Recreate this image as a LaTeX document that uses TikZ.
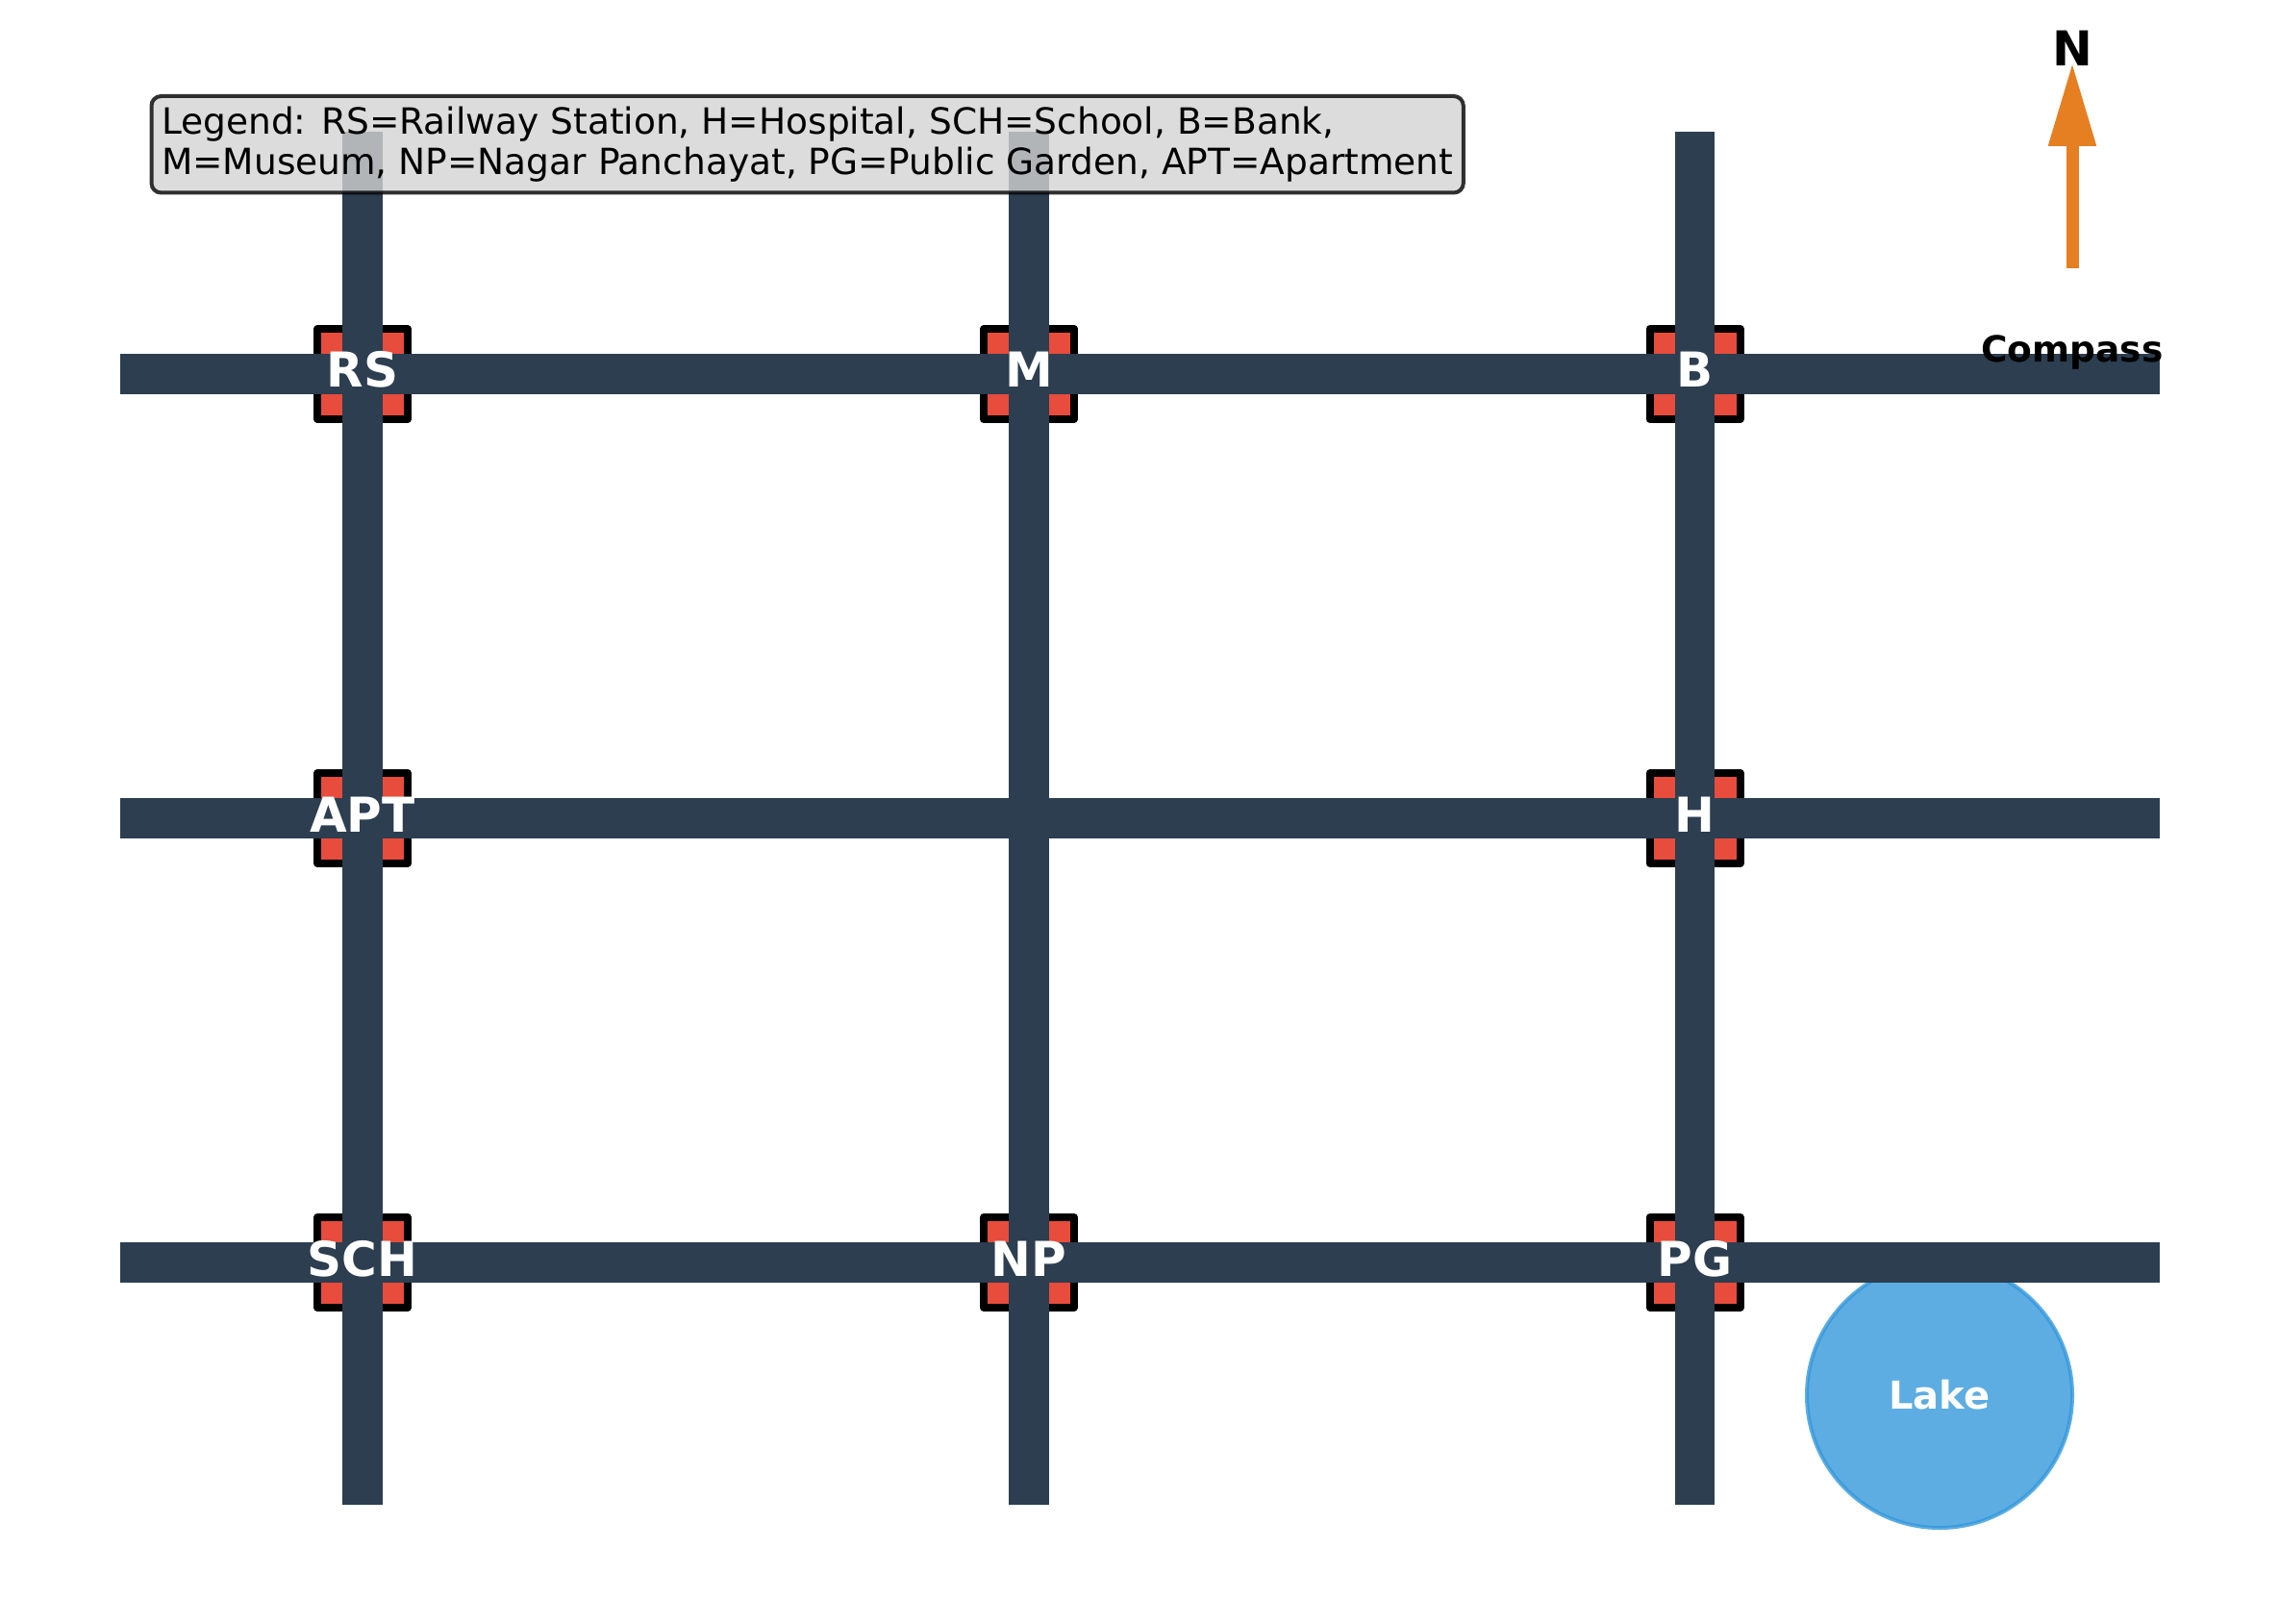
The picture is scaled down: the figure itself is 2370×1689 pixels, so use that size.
\documentclass[tikz,border=0pt]{standalone}
\usepackage{fontspec}
\setmainfont{DejaVu Sans}
\usetikzlibrary{arrows.meta}
\definecolor{roadcol}{HTML}{2C3E50}
\definecolor{markcol}{HTML}{E74C3C}
\definecolor{lakecol}{HTML}{3498DB}
\definecolor{compasscol}{HTML}{E67E22}
\definecolor{legendcol}{HTML}{D3D3D3}
\tikzset{
	road/.style={roadcol,line width=20.83pt},
	marksq/.style={draw=black,fill=markcol,line width=4pt,line join=round,minimum size=47pt,inner sep=0pt},
	marktxt/.style={white,font=\fontsize{25}{30}\selectfont\bfseries,anchor=base,inner sep=0pt},
}
\begin{document}
\begin{tikzpicture}[x=0.5pt,y=-0.5pt]
		\useasboundingbox(0,0)rectangle(2370,1689);
		\node[circle,draw=lakecol,fill=lakecol,draw opacity=.8,fill opacity=.8,text opacity=1,line width=2pt,minimum size=138pt,inner sep=0pt,text=white,text depth=1pt,font=\fontsize{20}{24}\selectfont\bfseries](lake)at(2017,1451){Lake};
		\node[marksq](rs)at(377,389){};
		\node[marksq](m)at(1070,389){};
		\node[marksq](b)at(1762.5,389){};
		\node[marksq](apt)at(377,851){};
		\node[marksq](h)at(1762.5,851){};
		\node[marksq](sch)at(377,1313){};
		\node[marksq](np)at(1070,1313){};
		\node[marksq](pg)at(1762.5,1313){};
		\draw[road](125,389)--(2246,389);
		\draw[road](125,851)--(2246,851);
		\draw[road](125,1313)--(2246,1313);
		\draw[road](377,137)--(377,1565);
		\draw[road](1070,137)--(1070,1565);
		\draw[road](1762.5,137)--(1762.5,1565);
		\node[marktxt](rstxt)at(377,403){RS};
		\node[marktxt](mtxt)at(1070,403){M};
		\node[marktxt](btxt)at(1762.5,403){B};
		\node[marktxt](apttxt)at(377,865){APT};
		\node[marktxt](htxt)at(1762.5,865){H};
		\node[marktxt](schtxt)at(377,1327){SCH};
		\node[marktxt](nptxt)at(1070,1327){NP};
		\node[marktxt](pgtxt)at(1762.5,1327){PG};
		\coordinate(tail)at(2155,279);
		\coordinate(tip)at(2155,65);
		\draw[compasscol,line width=6.5pt,-{Triangle[length=43.5pt,width=23.3pt]}](tail)--(tip);
		\node[anchor=base,inner sep=0pt,font=\fontsize{25}{30}\selectfont\bfseries](north)at(2155,68.5){N};
		\node[anchor=base,inner sep=0pt,font=\fontsize{18.75}{22.5}\selectfont\bfseries](compass)at(2155,377){Compass};
		\node[anchor=north west,draw=black,fill=legendcol,draw opacity=.8,fill opacity=.8,text opacity=1,line width=2pt,rounded corners=5pt,inner xsep=5.3pt,inner ysep=5.6pt,align=left,font=\fontsize{18.75}{20.9}\selectfont](legend)at(155.5,98){Legend: RS=Railway Station, H=Hospital, SCH=School, B=Bank,\\M=Museum, NP=Nagar Panchayat, PG=Public Garden, APT=Apartment};
	\end{tikzpicture}
\end{document}
